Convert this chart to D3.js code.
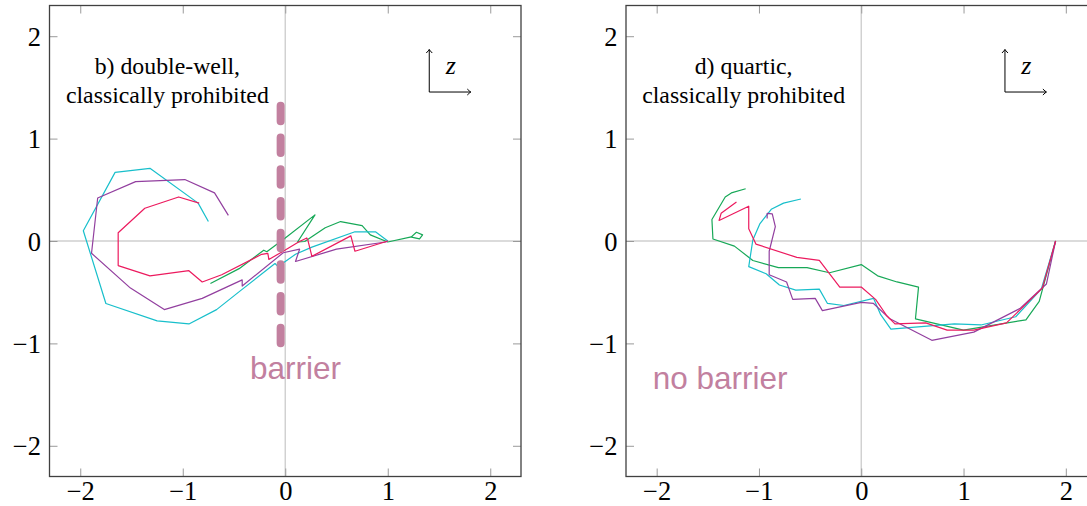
<!DOCTYPE html>
<html>
<head>
<meta charset="utf-8">
<script src="https://cdn.jsdelivr.net/npm/d3@7"></script>
<style>
  html, body { margin: 0; padding: 0; background: #fff; overflow: hidden; }
  svg { display: block; }
  .tick text { font-family: "Liberation Serif", "DejaVu Serif", serif; font-size: 26.5px; fill: #000; }
  .tick line { stroke: #9a9a9a; stroke-width: 1; }
</style>
</head>
<body>
<svg id="chart" width="1087" height="506"></svg>
<script>
// Axis setup shared by both panels.
const TICKS = [-2, -1, 0, 1, 2];
const DOMAIN = [-2.3, 2.3];

// b) double-well trajectories (x, y).
const dwCyan = [
  [-0.75, 0.19], [-0.85, 0.37], [-1.32, 0.71], [-1.66, 0.67], [-1.97, 0.10],
  [-1.75, -0.61], [-1.25, -0.78], [-0.94, -0.81], [-0.67, -0.67], [-0.43, -0.48],
  [-0.10, -0.22], [-0.07, -0.25], [0.0, -0.20], [0.10, -0.13], [0.26, -0.06],
  [0.68, 0.09], [0.88, 0.09], [1.0, 0.0]
];
const dwRed = [
  [-0.84, 0.37], [-1.04, 0.43], [-1.37, 0.32], [-1.63, 0.08], [-1.63, -0.24],
  [-1.32, -0.34], [-0.94, -0.29], [-0.81, -0.40], [-0.62, -0.33], [-0.23, -0.13],
  [-0.17, -0.12], [-0.16, -0.18], [-0.02, -0.10], [0.13, -0.01], [0.21, 0.03],
  [0.22, 0.01], [0.26, -0.15], [0.64, 0.05], [0.68, -0.10], [0.97, -0.01], [1.0, 0.0]
];
const dwPurple = [
  [-0.555, 0.25], [-0.69, 0.47], [-0.98, 0.60], [-1.46, 0.58], [-1.83, 0.42],
  [-1.89, -0.12], [-1.51, -0.46], [-1.18, -0.67], [-0.81, -0.56], [-0.42, -0.38],
  [-0.42, -0.44], [-0.02, -0.115], [0.14, -0.08], [0.10, -0.20], [0.50, -0.08],
  [0.98, -0.01], [1.0, 0.0]
];
const dwGreen = [
  [-0.73, -0.415], [-0.45, -0.27], [-0.21, -0.09], [-0.18, -0.105], [0.0, 0.03],
  [0.29, 0.255], [0.12, -0.01], [0.19, -0.005], [0.39, 0.13], [0.54, 0.19],
  [0.75, 0.15], [0.83, 0.06], [1.0, -0.01], [1.23, 0.04], [1.28, 0.085],
  [1.34, 0.06], [1.31, 0.02], [1.22, 0.04]
];

// d) quartic trajectories.
const qGreen = [
  [-1.13, 0.51], [-1.27, 0.47], [-1.33, 0.43], [-1.46, 0.21], [-1.45, 0.02],
  [-1.24, -0.05], [-1.06, -0.19], [-0.81, -0.26], [-0.53, -0.26], [-0.31, -0.31],
  [0.0, -0.23], [0.16, -0.34], [0.35, -0.40], [0.56, -0.45], [0.53, -0.76],
  [1.0, -0.87], [1.61, -0.77], [1.74, -0.59], [1.90, 0.0]
];
const qRed = [
  [-1.22, 0.38], [-1.37, 0.27], [-1.39, 0.20], [-1.10, 0.34], [-1.10, 0.12],
  [-1.03, -0.03], [-0.63, -0.16], [-0.41, -0.19], [-0.21, -0.45], [0.0, -0.45],
  [0.14, -0.57], [0.25, -0.73], [0.33, -0.81], [0.63, -0.80], [0.84, -0.87],
  [1.10, -0.87], [1.42, -0.80], [1.77, -0.46], [1.90, 0.0]
];
const qCyan = [
  [-0.59, 0.41], [-0.76, 0.37], [-0.88, 0.31], [-0.99, 0.17], [-1.06, 0.01],
  [-1.10, -0.25], [-0.93, -0.32], [-0.80, -0.43], [-0.64, -0.48], [-0.41, -0.47],
  [-0.33, -0.61], [-0.17, -0.63], [0.12, -0.56], [0.19, -0.72], [0.29, -0.86],
  [0.91, -0.81], [1.17, -0.82], [1.51, -0.74], [1.76, -0.47], [1.90, 0.0]
];
const qPurple = [
  [-0.92, 0.22], [-0.92, 0.27], [-0.87, 0.265], [-0.84, 0.14], [-0.90, -0.10],
  [-0.90, -0.33], [-0.73, -0.40], [-0.67, -0.57], [-0.45, -0.56], [-0.38, -0.68],
  [0.0, -0.60], [0.12, -0.61], [0.28, -0.76], [0.69, -0.97], [1.10, -0.89],
  [1.55, -0.66], [1.81, -0.42], [1.90, 0.0]
];

// Barrier marker in the double-well panel: x position and y extent.
const barrierX = -0.045;
const barrierY = [1.32, -1.0];

const COLORS = {
  cyan: "#18bfcb",
  red: "#ec1a5e",
  purple: "#923f9f",
  green: "#17a857",
  mauve: "#c2809f",
};

const SERIF = '"Liberation Serif", "DejaVu Serif", serif';
const SANS = '"Liberation Sans", Arial, sans-serif';
const TOP = 5.5;
const BOTTOM = 476.5;

const svg = d3.select("#chart");

svg.append("defs").append("marker")
  .attr("id", "arrow")
  .attr("viewBox", "-5 -5 10 10")
  .attr("markerWidth", 10)
  .attr("markerHeight", 10)
  .attr("markerUnits", "userSpaceOnUse")
  .attr("orient", "auto")
  .append("path")
  .attr("d", "M-3.5,-3 Q-1,-0.6 0,0 Q-1,0.6 -3.5,3")
  .attr("fill", "none")
  .attr("stroke", "#000")
  .attr("stroke-width", 1);

const panels = [
  {
    id: "dw",
    left: 49.5,
    right: 521,
    title: ["b) double-well,", "classically prohibited"],
    series: [
      { data: dwGreen, color: COLORS.green },
      { data: dwCyan, color: COLORS.cyan },
      { data: dwPurple, color: COLORS.purple },
      { data: dwRed, color: COLORS.red },
    ],
    barrier: true,
    note: { text: "barrier", x: 0.1, y: -1.35 },
  },
  {
    id: "q",
    left: 626,
    right: 1096.5,
    title: ["d) quartic,", "classically prohibited"],
    series: [
      { data: qGreen, color: COLORS.green },
      { data: qCyan, color: COLORS.cyan },
      { data: qPurple, color: COLORS.purple },
      { data: qRed, color: COLORS.red },
    ],
    barrier: false,
    note: { text: "no barrier", x: -1.38, y: -1.45 },
  },
];

panels.forEach(drawPanel);

function drawPanel(cfg) {
  const x = d3.scaleLinear().domain(DOMAIN).range([cfg.left, cfg.right]);
  const y = d3.scaleLinear().domain(DOMAIN).range([BOTTOM, TOP]);
  const g = svg.append("g").attr("class", `panel-${cfg.id}`);

  // zero lines
  g.append("line")
    .attr("x1", x(0)).attr("x2", x(0))
    .attr("y1", TOP).attr("y2", BOTTOM)
    .attr("stroke", "#cfcfcf").attr("stroke-width", 1.4);
  g.append("line")
    .attr("x1", cfg.left).attr("x2", cfg.right)
    .attr("y1", y(0)).attr("y2", y(0))
    .attr("stroke", "#cfcfcf").attr("stroke-width", 1.4);

  // ticks on all four sides, labels only bottom + left
  const fmt = d3.format("d");
  g.append("g")
    .attr("transform", `translate(0,${BOTTOM})`)
    .call(d3.axisBottom(x).tickValues(TICKS).tickSizeInner(-8).tickSizeOuter(0).tickFormat(fmt))
    .call((a) => a.select(".domain").remove())
    .call((a) => a.selectAll("text").attr("y", 23.5).attr("dy", 0));
  g.append("g")
    .attr("transform", `translate(0,${TOP})`)
    .call(d3.axisTop(x).tickValues(TICKS).tickSizeInner(-8).tickSizeOuter(0).tickFormat(""))
    .call((a) => a.select(".domain").remove());
  g.append("g")
    .attr("transform", `translate(${cfg.left},0)`)
    .call(d3.axisLeft(y).tickValues(TICKS).tickSizeInner(-8).tickSizeOuter(0).tickFormat(fmt))
    .call((a) => a.select(".domain").remove())
    .call((a) => a.selectAll("text").attr("x", -8.5).attr("dy", "0.34em"));
  g.append("g")
    .attr("transform", `translate(${cfg.right},0)`)
    .call(d3.axisRight(y).tickValues(TICKS).tickSizeInner(-8).tickSizeOuter(0).tickFormat(""))
    .call((a) => a.select(".domain").remove());

  // trajectories
  const line = d3.line().x((d) => x(d[0])).y((d) => y(d[1]));
  g.append("g")
    .selectAll("path")
    .data(cfg.series)
    .join("path")
    .attr("d", (d) => line(d.data))
    .attr("fill", "none")
    .attr("stroke", (d) => d.color)
    .attr("stroke-width", 1.2)
    .attr("stroke-linejoin", "round");

  if (cfg.barrier) {
    g.append("line")
      .attr("x1", x(barrierX)).attr("x2", x(barrierX))
      .attr("y1", y(barrierY[0])).attr("y2", y(barrierY[1]))
      .attr("stroke", COLORS.mauve)
      .attr("stroke-width", 8)
      .attr("stroke-linecap", "round")
      .attr("stroke-dasharray", "15.5 16.2");
  }

  // frame
  g.append("rect")
    .attr("x", cfg.left).attr("y", TOP)
    .attr("width", cfg.right - cfg.left).attr("height", BOTTOM - TOP)
    .attr("fill", "none").attr("stroke", "#404040").attr("stroke-width", 1.3);

  // title, two centred lines
  const title = g.append("text")
    .attr("text-anchor", "middle")
    .attr("font-family", SERIF)
    .attr("font-size", 23.8)
    .attr("fill", "#000");
  title.selectAll("tspan")
    .data(cfg.title)
    .join("tspan")
    .attr("x", x(-1.15))
    .attr("y", (d, i) => (i === 0 ? y(1.63) : y(1.345)))
    .text((d) => d);

  // small z-coordinate axes glyph
  g.append("path")
    .attr("d", `M${x(1.405)},${y(1.455)} L${x(1.405)},${y(1.87)}`)
    .attr("stroke", "#000").attr("stroke-width", 1).attr("fill", "none")
    .attr("marker-end", "url(#arrow)");
  g.append("path")
    .attr("d", `M${x(1.405)},${y(1.455)} L${x(1.81)},${y(1.455)}`)
    .attr("stroke", "#000").attr("stroke-width", 1).attr("fill", "none")
    .attr("marker-end", "url(#arrow)");
  g.append("text")
    .attr("x", x(1.615)).attr("y", y(1.635))
    .attr("text-anchor", "middle")
    .attr("font-family", SERIF)
    .attr("font-style", "italic")
    .attr("font-size", 26)
    .text("z");

  g.append("text")
    .attr("x", x(cfg.note.x)).attr("y", y(cfg.note.y))
    .attr("text-anchor", "middle")
    .attr("font-family", SANS)
    .attr("font-size", 31.5)
    .attr("fill", COLORS.mauve)
    .text(cfg.note.text);
}
</script>
</body>
</html>
